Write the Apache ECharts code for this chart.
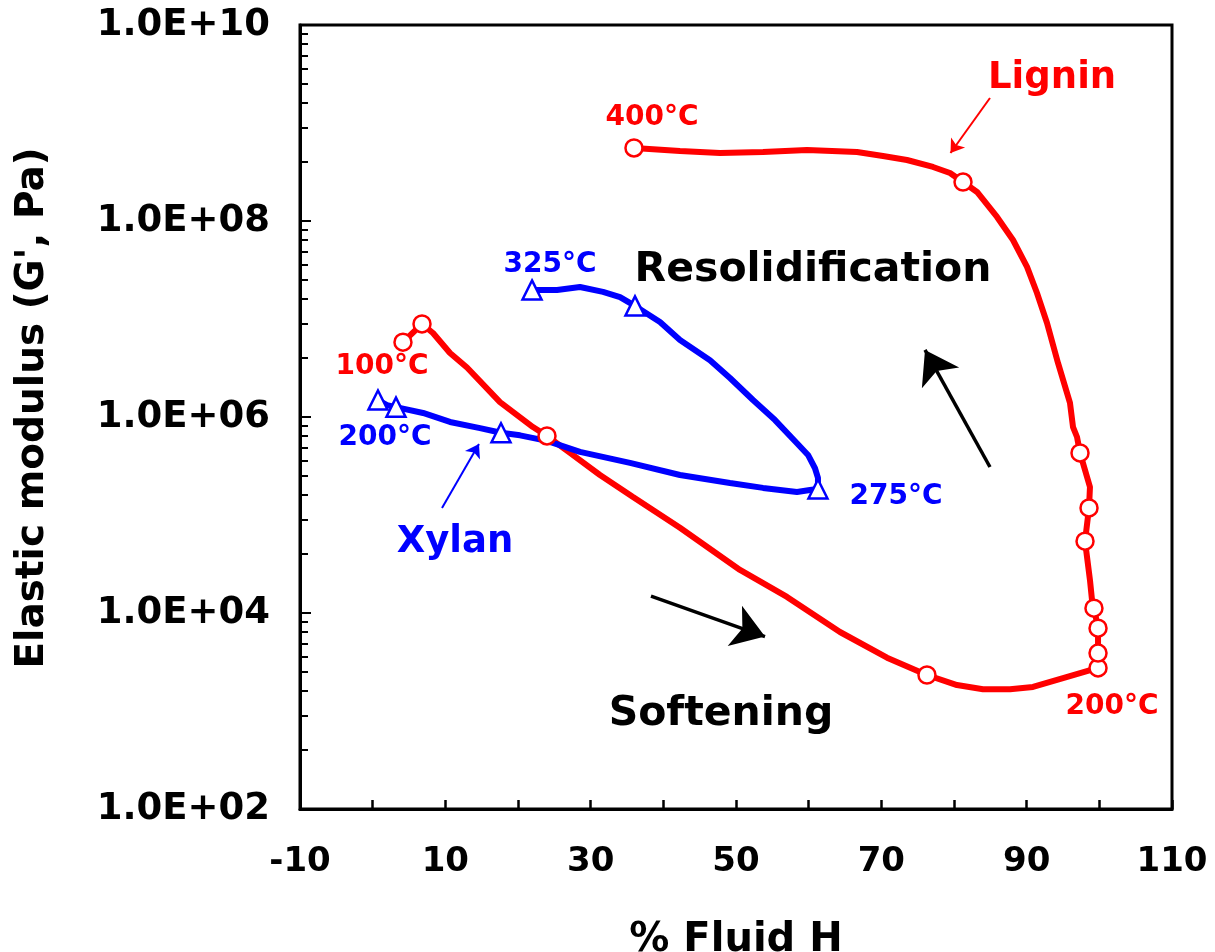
<!DOCTYPE html>
<html><head><meta charset="utf-8">
<script src="https://cdn.jsdelivr.net/npm/echarts@6/dist/echarts.min.js"></script>
<style>html,body{margin:0;padding:0;background:#fff}#c{width:1215px;height:952px}</style>
</head><body><div id="c"></div>
<script>
// ---- data ----
const ligninX = [4.17, 6.79, 8.30, 10.64, 12.98, 17.52, 22.06, 23.99, 27.16, 31.28, 35.83, 42.29, 50.55, 57.02, 64.31, 70.78, 76.28, 80.41, 83.99, 87.71, 90.87, 95.0, 99.82, 99.82, 99.82, 99.26, 98.99, 98.71, 98.03, 98.58, 98.71, 97.34, 96.93, 96.38, 95.96, 94.31, 92.80, 91.42, 90.05, 88.12, 85.92, 83.17, 81.24, 79.45, 77.11, 73.53, 70.23, 66.65, 59.77, 53.72, 47.80, 42.29, 35.96];
const ligninY = [5.8e6, 8.9e6, 7.2e6, 4.5e6, 3.2e6, 1.42e6, 7.9e5, 6.4e5, 4.3e5, 2.56e5, 1.53e5, 7.4e4, 2.75e4, 1.46e4, 6.4e3, 3.5e3, 2.33e3, 1.84e3, 1.67e3, 1.67e3, 1.76e3, 2.17e3, 2.75e3, 3.9e3, 7.0e3, 1.12e4, 1.36e4, 2.17e4, 5.4e4, 1.18e5, 1.93e5, 4.3e5, 6.25e5, 7.9e5, 1.39e6, 3.56e6, 9.1e6, 1.84e7, 3.4e7, 6.4e7, 1.1e8, 1.98e8, 2.5e8, 3.09e8, 3.56e8, 4.19e8, 4.6e8, 5.06e8, 5.3e8, 5.06e8, 4.94e8, 5.18e8, 5.56e8];
const ligninMarkerIdx = [0, 1, 7, 16, 22, 23, 24, 25, 28, 29, 31, 42, 52];

const xylanX = [0.73, 1.97, 3.21, 6.93, 10.64, 14.77, 17.66, 20.28, 23.99, 28.53, 35.41, 42.29, 49.17, 53.72, 58.39, 60.18, 61.28, 61.28, 60.87, 59.91, 58.39, 55.37, 52.34, 49.17, 46.42, 42.29, 39.54, 36.10, 34.04, 31.70, 28.53, 25.37, 21.93];
const xylanY = [1.49e6, 1.32e6, 1.26e6, 1.1e6, 8.9e5, 7.7e5, 6.9e5, 6.5e5, 5.7e5, 4.4e5, 3.4e5, 2.56e5, 2.12e5, 1.89e5, 1.72e5, 1.8e5, 1.84e5, 2.39e5, 3.0e5, 4.1e5, 5.4e5, 9.3e5, 1.49e6, 2.5e6, 3.8e6, 6.1e6, 9.3e6, 1.36e7, 1.67e7, 1.89e7, 2.12e7, 1.98e7, 1.98e7];
const xylanMarkerIdx = [0, 2, 6, 16, 27, 32];

// axis ranges / ticks
const xMin = -10, xMax = 110, xLabelStep = 20;
const yMin = 1e2, yMax = 1e10;
const yMinorDecades = [1e2, 1e4, 1e6, 1e8];
const yMinorMultipliers = [4, 9, 16, 25, 36, 49, 64, 81];

// titles
const xTitle = '% Fluid H';
const yTitle = "Elastic modulus (G', Pa)";

// annotations (data coordinates)
const textNotes = [
  { text: 'Lignin', x: 93.5, y: 2.88e9, color: '#ff0000', size: 37 },
  { text: '400°C', x: 38.44, y: 1.12e9, color: '#ff0000', size: 28 },
  { text: '325°C', x: 24.4, y: 3.56e7, color: '#0000ff', size: 28 },
  { text: 'Resolidification', x: 60.6, y: 3.16e7, color: '#000000', size: 41 },
  { text: '100°C', x: 1.28, y: 3.24e6, color: '#ff0000', size: 28 },
  { text: '200°C', x: 1.7, y: 6.1e5, color: '#0000ff', size: 28 },
  { text: 'Xylan', x: 11.33, y: 5.2e4, color: '#0000ff', size: 37 },
  { text: '275°C', x: 72.02, y: 1.53e5, color: '#0000ff', size: 28 },
  { text: 'Softening', x: 47.94, y: 931, color: '#000000', size: 41 },
  { text: '200°C', x: 101.74, y: 1.1e3, color: '#ff0000', size: 28 }
];
const arrowNotes = [
  { from: [84.95, 1.8e9], to: [79.52, 4.94e8], color: '#ff0000', width: 2, head: 13 },
  { from: [9.54, 1.18e5], to: [14.63, 5.3e5], color: '#0000ff', width: 2, head: 13 },
  { from: [84.95, 3.09e5], to: [76.01, 4.83e6], color: '#000000', width: 3.5, head: 32 },
  { from: [38.30, 1.49e4], to: [53.99, 5.75e3], color: '#000000', width: 3.5, head: 32 }
];

// ---- build ----
const FONT = '"DejaVu Sans", Verdana, sans-serif';
const zip = (xs, ys) => xs.map((x, i) => [x, ys[i]]);
const pick = (xs, ys, idx) => idx.map(i => [xs[i], ys[i]]);
const minorTickExps = [];
yMinorDecades.forEach(d => yMinorMultipliers.forEach(m => minorTickExps.push(Math.log10(d * m))));

const chart = echarts.init(document.getElementById('c'), null, { renderer: 'canvas' });

const option = {
  animation: false,
  backgroundColor: '#ffffff',
  grid: { left: 300, right: 43, top: 25, bottom: 143, containLabel: false, outerBoundsMode: 'none',
          show: true, borderColor: '#000', borderWidth: 3, backgroundColor: 'transparent' },
  xAxis: {
    type: 'value', min: xMin, max: xMax, interval: xLabelStep,
    axisLine: { show: true, onZero: false, lineStyle: { color: '#000', width: 3 } },
    axisTick: { show: true, inside: true, length: 9, lineStyle: { color: '#000', width: 2.5 } },
    minorTick: { show: true, splitNumber: 2, length: 9, lineStyle: { color: '#000', width: 2.5 } },
    splitLine: { show: false },
    axisLabel: { color: '#000', fontFamily: FONT, fontWeight: 'bold', fontSize: 34, margin: 36 },
    name: xTitle, nameLocation: 'middle', nameGap: 112,
    nameTextStyle: { color: '#000', fontFamily: FONT, fontWeight: 'bold', fontSize: 40 }
  },
  yAxis: [{
    type: 'log', logBase: 10, min: yMin, max: yMax, interval: 2,
    axisLine: { show: true, onZero: false, lineStyle: { color: '#000', width: 3 } },
    axisTick: { show: true, inside: true, length: 11, lineStyle: { color: '#000', width: 2 } },
    minorTick: { show: false },
    splitLine: { show: false },
    axisLabel: {
      color: '#000', fontFamily: FONT, fontWeight: 'bold', fontSize: 37, margin: 30,
      formatter: v => { const e = Math.round(Math.log10(v)); return '1.0E+' + (e < 10 ? '0' + e : '' + e); }
    },
    name: yTitle, nameLocation: 'middle', nameGap: 248, nameRotate: 90,
    nameTextStyle: { color: '#000', fontFamily: FONT, fontWeight: 'bold', fontSize: 39, padding: [0, 0, 0, 18] }
  }, {
    type: 'value', min: Math.log10(yMin), max: Math.log10(yMax), position: 'left',
    axisLine: { show: false, onZero: false },
    axisTick: { show: true, inside: true, length: 8, customValues: minorTickExps, lineStyle: { color: '#000', width: 2 } },
    axisLabel: { show: false },
    splitLine: { show: false }
  }],
  series: [
    {
      name: 'Lignin', type: 'line', data: zip(ligninX, ligninY), showSymbol: false, symbol: 'none',
      lineStyle: { color: '#ff0000', width: 6 }, z: 2,
      markLine: {
        silent: true, animation: false, label: { show: false },
        symbol: ['none', 'arrow'],
        data: arrowNotes.map(a => [
          { coord: a.from, symbol: 'none', lineStyle: { color: a.color, width: a.width, type: 'solid' } },
          { coord: a.to, symbol: 'arrow', symbolSize: a.head, itemStyle: { color: a.color }, lineStyle: { color: a.color, width: a.width, type: 'solid' } }
        ]),
        lineStyle: { type: 'solid' }
      }
    },
    {
      name: 'Xylan', type: 'line', data: zip(xylanX, xylanY), showSymbol: false, symbol: 'none',
      lineStyle: { color: '#0000ff', width: 6 }, z: 2
    },
    {
      name: 'Lignin markers', type: 'scatter', data: pick(ligninX, ligninY, ligninMarkerIdx),
      symbol: 'circle', symbolSize: 17, z: 5,
      itemStyle: { color: '#ffffff', borderColor: '#ff0000', borderWidth: 2.5, opacity: 1 }
    },
    {
      name: 'Xylan markers', type: 'scatter', data: pick(xylanX, xylanY, xylanMarkerIdx),
      symbol: 'triangle', symbolSize: 19, z: 5,
      itemStyle: { color: '#ffffff', borderColor: '#0000ff', borderWidth: 2.5, opacity: 1 }
    }
  ]
};
chart.setOption(option);

const graphics = textNotes.map(n => {
  const p = chart.convertToPixel({ xAxisIndex: 0, yAxisIndex: 0 }, [n.x, n.y]);
  return {
    type: 'text', x: p[0], y: p[1], z: 10,
    style: { text: n.text, fill: n.color, font: 'bold ' + n.size + 'px ' + FONT, align: 'center', verticalAlign: 'middle' }
  };
});
chart.setOption({ graphic: graphics });
</script>
</body></html>
